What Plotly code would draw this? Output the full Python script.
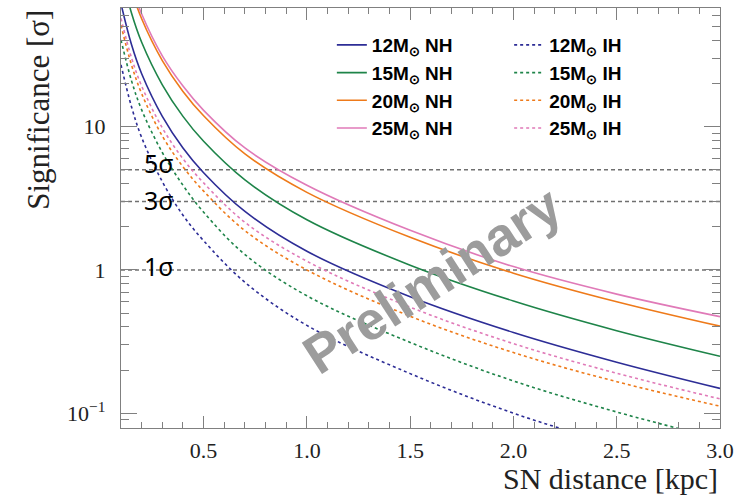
import math
import plotly.graph_objects as go

# distances [kpc]
distance = [0.1, 0.15, 0.2, 0.3, 0.4, 0.5, 0.7, 1.0, 1.5, 2.0, 2.5, 3.0]

# significance values
sig_12_nh = [72, 37.7, 23.4, 11.8, 7.1, 4.77, 2.56, 1.35, 0.65, 0.366, 0.227, 0.149]
sig_15_nh = [120, 62.6, 38.8, 19.6, 11.8, 7.9, 4.25, 2.24, 1.08, 0.607, 0.377, 0.25]
sig_20_nh = [173, 90.5, 56.6, 28.9, 17.6, 11.9, 6.45, 3.48, 1.69, 0.95, 0.60, 0.405]
sig_25_nh = [185, 96.8, 61.1, 31.2, 19.2, 13.0, 7.1, 3.9, 1.89, 1.055, 0.678, 0.472]

sig_12_ih = [27, 13.9, 8.4, 4.13, 2.41, 1.6, 0.82, 0.41, 0.189, 0.10, 0.06, 0.038]
sig_15_ih = [40.3, 21.1, 13.1, 6.6, 3.9, 2.53, 1.28, 0.66, 0.312, 0.168, 0.102, 0.066]
sig_20_ih = [51, 27.2, 17.0, 8.6, 5.25, 3.55, 1.88, 1.0, 0.475, 0.265, 0.166, 0.112]
sig_25_ih = [57, 30.5, 19.2, 9.8, 5.97, 4.05, 2.15, 1.15, 0.55, 0.306, 0.19, 0.126]

masses = ["12", "15", "20", "25"]
colors = ["#2d2d96", "#1e8449", "#ee7a1a", "#e07ab8"]
nh_series = [sig_12_nh, sig_15_nh, sig_20_nh, sig_25_nh]
ih_series = [sig_12_ih, sig_15_ih, sig_20_ih, sig_25_ih]

thresholds = [5, 3, 1]
threshold_labels = ["5σ", "3σ", "1σ"]
threshold_label_shift = [7, 2, 4]
threshold_x = [0.1, 3.0]

y_tickvals = [0.1, 1, 10]
y_ticktext = ["10<sup>−1</sup>", "1", "10"]
y_minor = [0.09, 0.2, 0.3, 0.4, 0.5, 0.6, 0.7, 0.8, 0.9,
           2, 3, 4, 5, 6, 7, 8, 9, 20, 30, 40, 50, 60]

fig = go.Figure()

for t in thresholds:
    fig.add_trace(go.Scatter(x=threshold_x, y=[t, t], mode="lines",
                             line=dict(color="#707070", width=1.5, dash="4px,3px"),
                             showlegend=False, hoverinfo="skip"))

for m, c, s in zip(masses, colors, nh_series):
    fig.add_trace(go.Scatter(x=distance, y=s, mode="lines",
                             line=dict(color=c, width=1.6, shape="spline"),
                             name=f"<b>{m}M<sub>⊙</sub> NH</b>", legend="legend"))
for m, c, s in zip(masses, colors, ih_series):
    fig.add_trace(go.Scatter(x=distance, y=s, mode="lines",
                             line=dict(color=c, width=1.6, shape="spline", dash="3px,3px"),
                             name=f"<b>{m}M<sub>⊙</sub> IH</b>", legend="legend2"))

axis_col = "#808080"
fig.update_xaxes(range=[0.1, 3.0], tick0=0, dtick=0.5, tickformat=".1f",
                 ticks="inside", ticklen=12, tickwidth=1, tickcolor=axis_col,
                 showline=True, linecolor=axis_col, linewidth=1.2, mirror="ticks",
                 showgrid=False, zeroline=False,
                 minor=dict(dtick=0.1, tick0=0, ticks="inside", ticklen=6,
                            tickcolor=axis_col, showgrid=False),
                 tickfont=dict(family="Liberation Serif", size=22, color="#222"),
                 ticklabelstandoff=2)
fig.update_yaxes(type="log", range=[-1.103, 1.828],
                 tickvals=y_tickvals, ticktext=y_ticktext,
                 ticks="inside", ticklen=16, tickwidth=1, tickcolor=axis_col,
                 showline=True, linecolor=axis_col, linewidth=1.2, mirror="ticks",
                 showgrid=False, zeroline=False,
                 minor=dict(tickvals=y_minor, ticks="inside", ticklen=8,
                            tickcolor=axis_col, showgrid=False),
                 tickfont=dict(family="Liberation Serif", size=22, color="#222"),
                 ticklabelstandoff=10)

annotations = []
for t, lab, sh in zip(thresholds, threshold_labels, threshold_label_shift):
    annotations.append(dict(x=0.2, y=math.log10(t), xref="x", yref="y",
                            text=lab, showarrow=False, xanchor="left", yanchor="middle",
                            yshift=sh, font=dict(family="Noto Sans", size=25, color="black")))
annotations.append(dict(x=0.519, y=0.352, xref="paper", yref="paper",
                        text="<b>Preliminary</b>", showarrow=False, textangle=-33,
                        font=dict(family="Liberation Sans", size=54, color="#9c9c9c")))
annotations.append(dict(x=1.0, y=-0.12, xref="paper", yref="paper",
                        text="SN distance [kpc]", showarrow=False, xanchor="right",
                        yanchor="middle",
                        font=dict(family="Liberation Serif", size=30, color="#222")))
annotations.append(dict(x=-0.139, y=1.0, xref="paper", yref="paper",
                        text="Significance [σ]", showarrow=False, textangle=-90,
                        xanchor="center", yanchor="top",
                        font=dict(family="Liberation Serif", size=31, color="#222")))

legend_font = dict(family="Liberation Sans", size=19, color="black")
fig.update_layout(
    width=746, height=497,
    margin=dict(l=121, r=26, t=8, b=69),
    paper_bgcolor="white", plot_bgcolor="white",
    annotations=annotations,
    legend=dict(x=0.352, y=0.957, xanchor="left", yanchor="top",
                bgcolor="rgba(0,0,0,0)", font=legend_font, tracegroupgap=0),
    legend2=dict(x=0.648, y=0.957, xanchor="left", yanchor="top",
                 bgcolor="rgba(0,0,0,0)", font=legend_font, tracegroupgap=0),
)

fig.write_html("out.html")
